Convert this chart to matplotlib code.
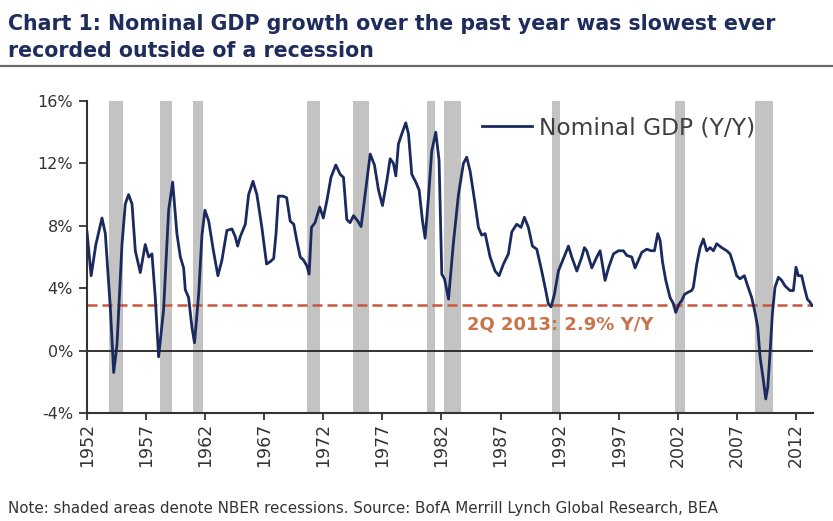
import matplotlib
matplotlib.use("Agg")
import matplotlib.pyplot as plt
from matplotlib.lines import Line2D

# nominal GDP y/y growth (x = position on the chart's year axis)
gdp_x = [1952.00, 1952.35, 1952.75, 1953.27, 1953.55, 1953.97, 1954.26, 1954.54, 1954.96, 1955.24,
         1955.52, 1955.81, 1956.09, 1956.51, 1956.93, 1957.22, 1957.50, 1957.78, 1958.06, 1958.48,
         1958.91, 1959.25, 1959.61, 1959.90, 1960.18, 1960.32, 1960.60, 1960.88, 1961.10, 1961.45,
         1961.73, 1961.98, 1962.30, 1962.70, 1963.08, 1963.42, 1963.84, 1964.27, 1964.55, 1964.75,
         1964.97, 1965.40, 1965.68, 1966.05, 1966.38, 1966.80, 1967.20, 1967.50, 1967.80, 1968.00,
         1968.20, 1968.60, 1968.90, 1969.20, 1969.50, 1969.76, 1970.05, 1970.33, 1970.60, 1970.80,
         1971.00, 1971.30, 1971.70, 1972.00, 1972.30, 1972.65, 1973.06, 1973.43, 1973.71, 1973.99,
         1974.27, 1974.56, 1974.92, 1975.20, 1975.54, 1975.97, 1976.33, 1976.67, 1977.01, 1977.38,
         1977.66, 1977.94, 1978.14, 1978.36, 1978.65, 1978.98, 1979.21, 1979.49, 1979.83, 1980.11,
         1980.40, 1980.62, 1980.90, 1981.18, 1981.52, 1981.80, 1982.03, 1982.26, 1982.60, 1983.00,
         1983.44, 1983.86, 1984.14, 1984.43, 1984.85, 1985.13, 1985.41, 1985.70, 1986.12, 1986.54,
         1986.88, 1987.25, 1987.67, 1987.95, 1988.37, 1988.74, 1989.02, 1989.36, 1989.70, 1990.07,
         1990.49, 1990.83, 1991.05, 1991.28, 1991.56, 1991.90, 1992.32, 1992.75, 1993.03, 1993.46,
         1993.88, 1994.10, 1994.30, 1994.73, 1995.15, 1995.43, 1995.85, 1996.14, 1996.56, 1996.98,
         1997.40, 1997.69, 1998.11, 1998.39, 1998.67, 1998.96, 1999.38, 1999.75, 2000.03, 2000.31,
         2000.51, 2000.71, 2000.99, 2001.35, 2001.64, 2001.83, 2002.12, 2002.34, 2002.57, 2002.90,
         2003.18, 2003.32, 2003.61, 2003.89, 2004.17, 2004.45, 2004.74, 2005.02, 2005.30, 2005.72,
         2006.15, 2006.43, 2006.71, 2006.99, 2007.27, 2007.64, 2007.92, 2008.26, 2008.54, 2008.77,
         2008.97, 2009.25, 2009.45, 2009.62, 2009.81, 2010.01, 2010.23, 2010.52, 2010.80, 2011.08,
         2011.50, 2011.79, 2012.01, 2012.21, 2012.49, 2012.72, 2012.97, 2013.20, 2013.36]
gdp_yoy = [7.6, 4.8, 6.8, 8.5, 7.5, 2.8, -1.4, 0.4, 6.8, 9.4,
           10.0, 9.4, 6.4, 5.0, 6.8, 6.0, 6.2, 3.4, -0.4, 2.6,
           9.0, 10.8, 7.5, 6.0, 5.3, 3.9, 3.4, 1.5, 0.5, 3.6,
           7.4, 9.0, 8.3, 6.4, 4.8, 5.8, 7.7, 7.8, 7.3, 6.7,
           7.3, 8.1, 10.0, 10.85, 10.0, 7.9, 5.55, 5.7, 5.9, 7.5,
           9.9, 9.9, 9.8, 8.3, 8.1, 7.05, 6.0, 5.8, 5.45, 4.9,
           7.9, 8.2, 9.2, 8.5, 9.6, 11.1, 11.9, 11.3, 11.1, 8.4,
           8.2, 8.65, 8.3, 7.95, 10.0, 12.6, 11.9, 10.3, 9.3, 10.9,
           12.3, 12.0, 11.2, 13.25, 13.9, 14.6, 13.9, 11.3, 10.8, 10.3,
           8.3, 7.2, 9.8, 12.8, 14.0, 12.2, 4.9, 4.6, 3.3, 6.8,
           10.0, 12.0, 12.4, 11.5, 9.4, 7.9, 7.4, 7.5, 6.0, 5.1,
           4.8, 5.55, 6.2, 7.6, 8.1, 7.9, 8.55, 7.9, 6.7, 6.5,
           5.1, 3.85, 3.0, 2.8, 3.6, 5.1, 5.9, 6.7, 6.0, 5.1,
           6.0, 6.6, 6.4, 5.3, 6.0, 6.4, 4.5, 5.3, 6.2, 6.4,
           6.4, 6.1, 6.0, 5.3, 5.8, 6.3, 6.5, 6.4, 6.4, 7.5,
           7.05, 5.7, 4.5, 3.4, 3.0, 2.45, 3.0, 3.2, 3.6, 3.75,
           3.85, 4.05, 5.55, 6.6, 7.15, 6.4, 6.6, 6.4, 6.85, 6.6,
           6.4, 6.2, 5.55, 4.8, 4.6, 4.8, 4.15, 3.4, 2.45, 1.5,
           -0.4, -1.9, -3.1, -2.35, -0.2, 2.35, 4.05, 4.7, 4.5, 4.15,
           3.85, 3.85, 5.35, 4.8, 4.8, 4.05, 3.3, 3.1, 2.9]

# shaded NBER recessions, as placed on the chart
rec_start = [1953.90, 1958.15, 1960.95, 1970.60, 1974.55, 1980.75, 1982.20, 1991.33, 2001.80, 2008.55]
rec_end = [1955.05, 1959.20, 1961.85, 1971.75, 1975.85, 1981.47, 1983.65, 1992.05, 2002.62, 2010.10]

year_ticks = list(range(1952, 2013, 5))
pct_ticks = [-4, 0, 4, 8, 12, 16]
latest_label = "2Q 2013: 2.9% Y/Y"

NAVY = "#1b2a5e"
TXT = "#333333"


def plot_chart():
    fig = plt.figure(figsize=(8.33, 5.21), dpi=100)
    ax = fig.add_axes([87 / 833, 1 - 413 / 521, 726 / 833, 312 / 521])

    for s, e in zip(rec_start, rec_end):
        ax.axvspan(s, e, color="#c3c3c3", lw=0, zorder=0)

    ax.axhline(0, color="#222222", lw=1.3, zorder=1)
    ax.axhline(gdp_yoy[-1], color="#c9573f", lw=1.8, dashes=(4, 2), zorder=2)
    ax.plot(gdp_x, gdp_yoy, color=NAVY, lw=2.0, zorder=3, label="Nominal GDP (Y/Y)")

    ax.text(1984.17, 1.7, latest_label, color="#c8744a", fontsize=13,
            fontweight="bold", ha="left", va="center")

    ax.set_xlim(1952, 2013.45)
    ax.set_ylim(-4, 16)
    ax.set_xticks(year_ticks)
    ax.set_xticklabels([str(y) for y in year_ticks], rotation=90, fontsize=12.5, color=TXT)
    ax.set_yticks(pct_ticks)
    ax.set_yticklabels([f"{p}%" for p in pct_ticks], fontsize=11.5, color=TXT)
    ax.tick_params(axis="y", length=6, width=1.3, pad=4, color="#333333")
    ax.tick_params(axis="x", length=5, width=1.3, pad=2, color="#333333")

    for side in ["top", "right"]:
        ax.spines[side].set_visible(False)
    for side in ["left", "bottom"]:
        ax.spines[side].set_linewidth(1.5)
        ax.spines[side].set_color("#333333")

    leg = ax.legend(loc="center left", bbox_to_anchor=(0.544, 0.913), frameon=False,
                    fontsize=16.8, handlelength=2.15, handletextpad=0.3,
                    borderpad=0, borderaxespad=0)
    for t in leg.get_texts():
        t.set_color("#404040")

    # title, rule and footnote
    fig.text(8 / 833, 1 - 30 / 521, "Chart 1: Nominal GDP growth over the past year was slowest ever",
             fontsize=14.8, fontweight="bold", color="#1f2d5c", va="baseline")
    fig.text(8 / 833, 1 - 57 / 521, "recorded outside of a recession",
             fontsize=14.8, fontweight="bold", color="#1f2d5c", va="baseline")
    fig.add_artist(Line2D([0, 1], [1 - 66 / 521, 1 - 66 / 521], color="#6a6a6a", lw=1.6))
    fig.text(8 / 833, 1 - 513 / 521,
             "Note: shaded areas denote NBER recessions. Source: BofA Merrill Lynch Global Research, BEA",
             fontsize=10.9, color=TXT, va="baseline")

    fig.savefig("out.png", dpi=100)


def main():
    plot_chart()


if __name__ == "__main__":
    main()
